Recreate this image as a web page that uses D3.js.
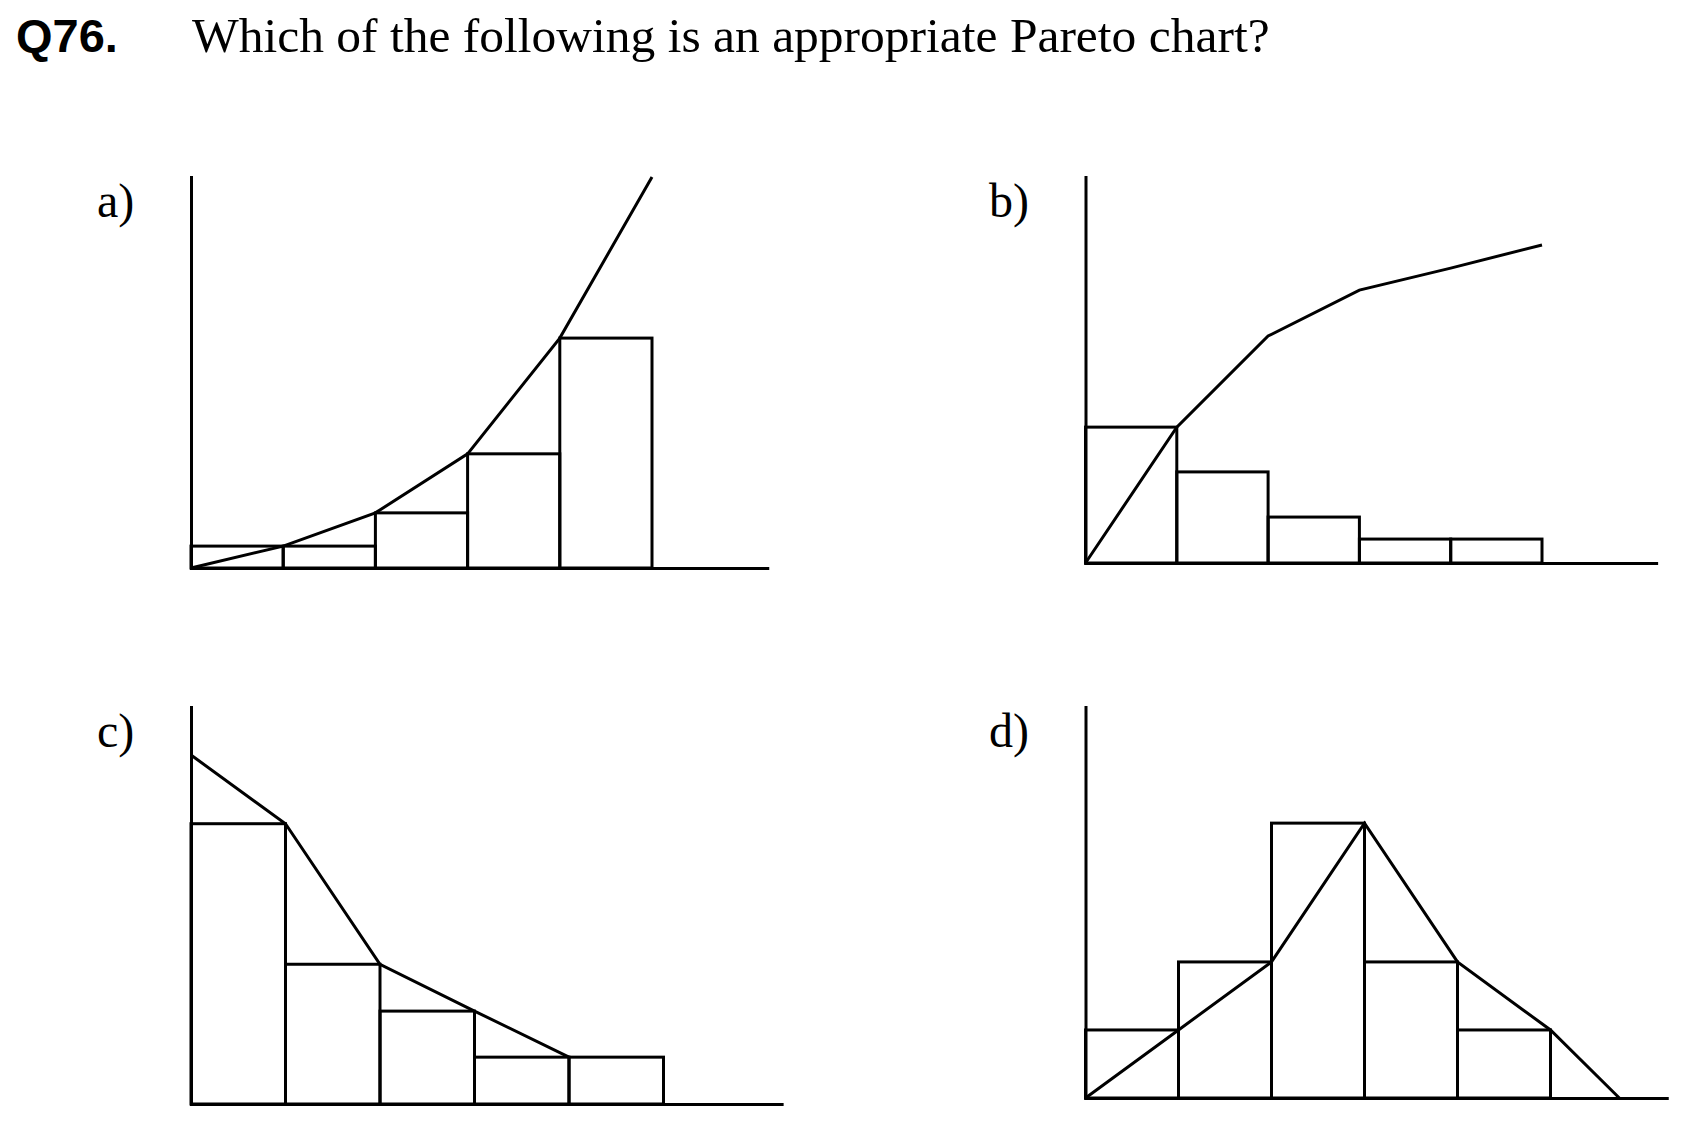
<!DOCTYPE html>
<html>
<head>
<meta charset="utf-8">
<script src="https://cdn.jsdelivr.net/npm/d3@7"></script>
<style>
  html, body { margin: 0; padding: 0; background: #fff; }
  svg { display: block; }
</style>
</head>
<body>
<svg id="chart" width="1683" height="1124"></svg>
<script>
// ---- Data (values as % of the vertical axis height) ----
const questionNumber = "Q76.";
const questionText = "Which of the following is an appropriate Pareto chart?";
const panelLabels = ["a)", "b)", "c)", "d)"];

// bars (5 categories per chart)
const barsA = [5.6, 5.6, 14.1, 29.2, 58.8];
const barsB = [35.2, 23.6, 11.9, 6.2, 6.2];
const barsC = [70.6, 35.2, 23.4, 11.8, 11.8];
const barsD = [17.4, 34.8, 70.3, 34.8, 17.4];

// line positions (category-edge index) and values
const lineXA = [0, 1, 2, 3, 4, 5];
const lineA  = [0, 5.6, 14.1, 29.2, 58.8, 100];
const lineXB = [0, 1, 2, 3, 4, 5];
const lineB  = [0, 35.2, 58.8, 70.7, 76.4, 82.4];
const lineXC = [0, 1, 2, 3, 4];
const lineC  = [87.9, 70.6, 35.2, 23.4, 11.8];
const lineXD = [0, 1, 2, 3, 4, 5, 5.74];
const lineD  = [0, 17.4, 34.8, 70.3, 34.8, 17.4, 0];

// ---- Layout ----
const panels = [
  { label: panelLabels[0], bars: barsA, lx: lineXA, ly: lineA, x0: 191,  y0: 568,  band: 92.2, h: 391, labelX: 97,  labelY: 217 },
  { label: panelLabels[1], bars: barsB, lx: lineXB, ly: lineB, x0: 1085.5, y0: 563, band: 91.3, h: 386, labelX: 989, labelY: 217 },
  { label: panelLabels[2], bars: barsC, lx: lineXC, ly: lineC, x0: 191,  y0: 1104, band: 94.5, h: 397, labelX: 97,  labelY: 747 },
  { label: panelLabels[3], bars: barsD, lx: lineXD, ly: lineD, x0: 1085.5, y0: 1098, band: 93,  h: 391, labelX: 989, labelY: 747 }
];
const axisExtent = 6.25;
const sw = 3;

const svg = d3.select("#chart");

svg.append("text")
  .attr("x", 16).attr("y", 52)
  .attr("font-family", "'Liberation Sans', Arial, sans-serif")
  .attr("font-weight", "bold")
  .attr("font-size", 47)
  .attr("fill", "#000")
  .text(questionNumber);

svg.append("text")
  .attr("x", 192).attr("y", 52)
  .attr("font-family", "'Liberation Serif', 'Times New Roman', serif")
  .attr("font-size", 49.5)
  .attr("fill", "#000")
  .text(questionText);

panels.forEach(p => {
  const g = svg.append("g");
  const x = d3.scaleLinear().domain([0, axisExtent]).range([p.x0, p.x0 + axisExtent * p.band]);
  const y = d3.scaleLinear().domain([0, 100]).range([p.y0, p.y0 - p.h]);

  g.append("text")
    .attr("x", p.labelX).attr("y", p.labelY)
    .attr("font-family", "'Liberation Serif', 'Times New Roman', serif")
    .attr("font-size", 48)
    .attr("fill", "#000")
    .text(p.label);

  // bars
  g.selectAll("rect.bar")
    .data(p.bars)
    .join("rect")
    .attr("class", "bar")
    .attr("x", (d, i) => x(i))
    .attr("y", d => y(d))
    .attr("width", (d, i) => x(i + 1) - x(i))
    .attr("height", d => y(0) - y(d))
    .attr("fill", "none")
    .attr("stroke", "#000")
    .attr("stroke-width", sw);

  // axes
  const ax = g.append("g")
    .attr("transform", `translate(0,${y(0)})`)
    .call(d3.axisBottom(x).tickValues([]).tickSizeOuter(0));
  const ay = g.append("g")
    .attr("transform", `translate(${x(0)},0)`)
    .call(d3.axisLeft(y).tickValues([]).tickSizeOuter(0));
  [ax, ay].forEach(a => a.select(".domain")
    .attr("stroke", "#000")
    .attr("stroke-width", sw)
    .attr("stroke-linecap", "square"));

  // line
  const pts = p.lx.map((v, i) => [v, p.ly[i]]);
  g.append("path")
    .datum(pts)
    .attr("d", d3.line().x(d => x(d[0])).y(d => y(d[1])))
    .attr("fill", "none")
    .attr("stroke", "#000")
    .attr("stroke-width", sw)
    .attr("stroke-linejoin", "miter");
});
</script>
</body>
</html>
